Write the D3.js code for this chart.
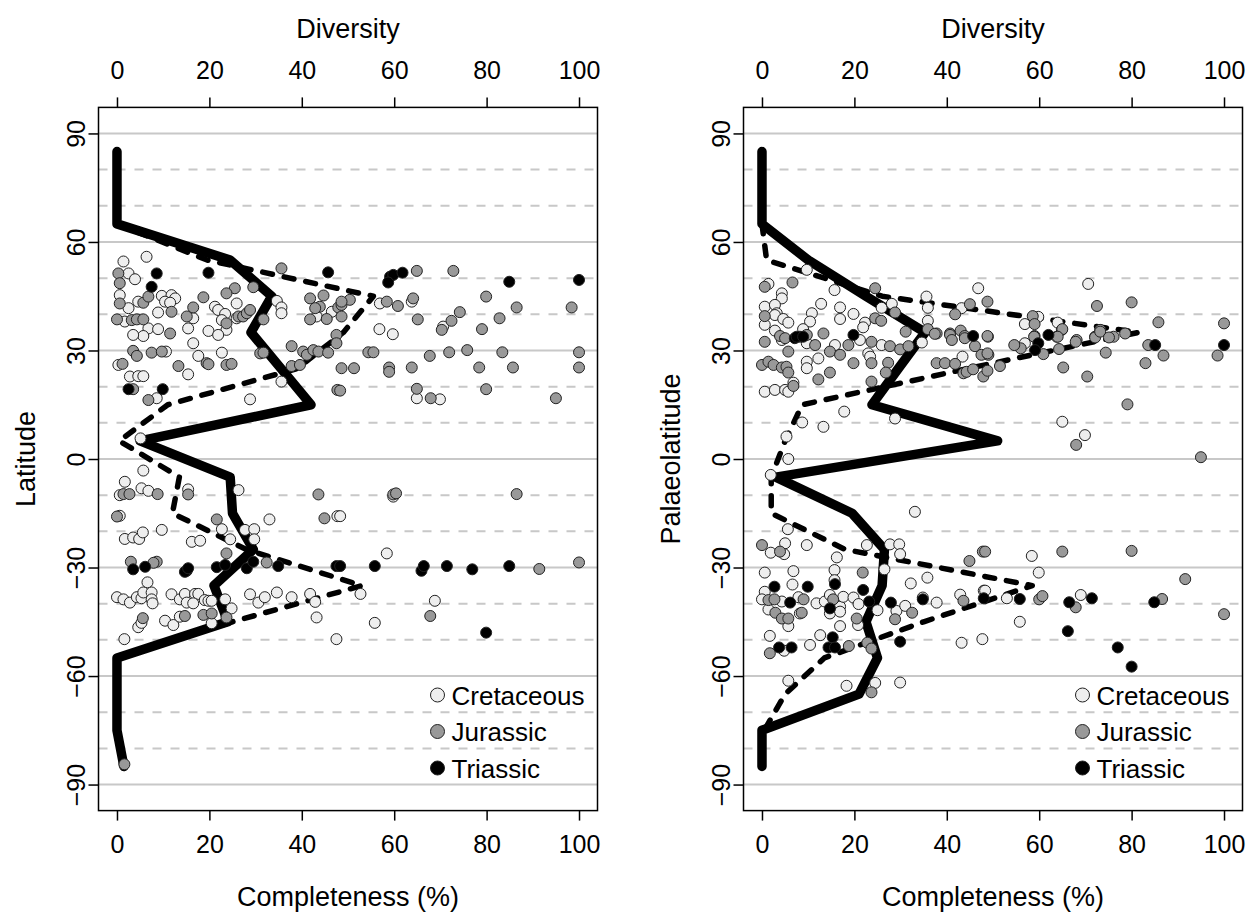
<!DOCTYPE html>
<html>
<head>
<meta charset="utf-8">
<script src="https://cdn.jsdelivr.net/npm/d3@7"></script>
<style>
  body { margin: 0; background: #fff; }
  text { font-family: "Liberation Sans", Arial, sans-serif; }
</style>
</head>
<body>
<div id="chart"></div>
<script>
// latitude bin midpoints used by both curves
var latBins = [85, 75, 65, 55, 45, 35, 25, 15, 5, -5, -15, -25, -35, -45, -55, -65, -75, -85];

// left panel (modern latitude)
var leftCompleteness = [0, 0, 0, 24.5, 33.5, 29, 35.5, 42, 5, 24.5, 25, 29.5, 21, 24, 0, 0, 0, 1.5];
var leftDiversity = [null, null, 0, 19.5, 55.5, 49, 39, 11, 0.5, 13.5, 12, 28, 53, 25, 0, null, null, null];

// right panel (palaeolatitude)
var rightCompleteness = [0, 0, 0, 10, 22.5, 35.3, 29.5, 23.8, 51, 3, 19.5, 26.5, 26, 22.5, 25, 21, 0, 0];
var rightDiversity = [null, null, 0, 1, 26, 81.5, 44.5, 8.7, 5, 2, 2, 18, 58.5, 35, 13.5, 5, 0.5, null];

var xTicks = [0, 20, 40, 60, 80, 100];
var latTicks = [-90, -60, -30, 0, 30, 60, 90];
var latMinor = [-80, -70, -50, -40, -20, -10, 10, 20, 40, 50, 70, 80];
var periods = ["Cretaceous", "Jurassic", "Triassic"];

// localities: [completeness, latitude]
var leftCretaceous = [[1.4,54.6],[6.4,55.9],[2.5,51.3],[3.9,49.7],[0.6,45.3],[2.5,41.7],[4.6,43.5],[9.7,45.1],[11.8,45.3],[12.6,44.4],[10.4,43.5],[11.5,43.2],[8.9,40.5],[16.5,38.9],[15.4,36.1],[21.2,42.1],[21.9,41.2],[23.4,40.1],[22.7,38.4],[23.7,35.7],[19.8,35.4],[25.9,43.0],[25.9,38.9],[34.6,43.7],[35.6,41.9],[35.6,40.3],[1.7,38.0],[6.8,36.1],[5.7,34.0],[8.9,35.9],[43.2,39.4],[46.5,40.7],
  [56.9,43.0],[63.8,43.5],[56.8,35.9],[59.7,34.5],[70.6,36.6],
  [10.6,29.7],[0.3,26.0],[2.8,22.8],[4.6,22.9],[5.7,22.9],[15.4,23.4],[17.6,28.5],[22.7,29.4],[8.6,16.8],[28.8,16.5],[35.6,21.4],[5.1,5.7],[5.7,-3.2],[1.7,-6.3],[5.3,-8.1],[6.8,-8.8],[0.6,-10.0],[15.4,-8.4],[26.3,-8.6],[0.6,-15.7],[1.7,-22.1],[3.5,-21.7],[4.8,-22.1],[5.6,-20.3],[9.7,-19.6],[16.2,-22.9],[18.0,-22.6],[22.7,-19.4],[24.5,-22.2],[27.7,-19.6],[29.7,-19.4],[29.7,-22.2],[33.0,-16.7],[47.7,-15.8],
  [16.5,32.0],[3.5,34.3],[21.9,34.3],
  [64.9,16.8],[69.9,16.5],[59.8,-10.4],[48.3,-15.8],
  [6.6,-34.1],[0,-38.2],[1.4,-38.8],[2.8,-39.7],[4.3,-38.2],[5.3,-38.5],[5.7,-36.9],[7.5,-36.9],[7.5,-38.8],[7.7,-39.9],[11.8,-37.4],[13.6,-38.8],[14.7,-37.3],[15.1,-39.7],[16.9,-37.3],[17.6,-37.3],[16.5,-39.9],[19.0,-39.0],[19.8,-39.2],[20.5,-39.2],[23.4,-38.8],[24.8,-41.3],[4.6,-46.5],[5.3,-45.3],[10.4,-44.7],[12.2,-45.9],[13.6,-43.6],[20.5,-45.4],[28.8,-37.4],[30.6,-39.7],[32.0,-38.2],[34.6,-36.9],[37.8,-38.2],[41.8,-37.3],[42.9,-39.5],[43.2,-43.8],[1.6,-49.8],[47.5,-49.8],
  [58.4,-26.1],[52.7,-37.3],[68.8,-39.2],[55.8,-45.3]];

var leftJurassic = [[0.3,51.3],[0.6,48.6],[35.6,52.7],[29.5,47.5],[25.5,47.2],[23.7,45.8],[0.6,43.0],[5.7,43.2],[6.8,44.9],[18.7,44.7],[11.8,40.7],[16.5,41.9],[15.1,39.4],[23.7,37.5],[26.3,39.4],[27.3,39.4],[28.1,40.3],[28.8,41.2],[31.7,38.6],[0,38.6],[3.2,38.4],[4.3,38.6],[5.7,38.6],[11.5,34.7],[41.8,44.4],[44.7,45.2],[43.9,42.1],[42.9,41.7],[41.8,38.6],[45.4,38.7],[47.9,41.9],[48.6,42.6],[50.4,44.0],[47.5,34.3],
  [64.9,52.0],[72.8,52.0],[48.6,43.5],[48.6,39.4],[58.4,43.5],[60.8,42.3],[64.1,44.4],[65.1,38.6],[79.9,44.9],[86.5,41.9],[98.4,41.9],[82.8,38.9],[74.2,40.6],[72.4,38.2],[70.3,35.7],[79.0,35.9],
  [3.5,29.9],[4.3,28.5],[7.5,29.4],[9.7,29.7],[1.2,26.3],[13.3,25.7],[19.4,26.5],[19.8,26.2],[23.7,26.0],[24.8,26.3],[3.5,19.3],[6.8,16.3],[31.0,29.2],[31.7,29.4],[37.8,31.2],[37.8,25.7],[39.6,26.0],[40.3,29.7],[41.1,28.8],[42.5,30.1],[43.6,29.7],[45.7,29.4],[47.5,32.0],[48.6,25.1],[47.7,19.1],[1.4,-9.7],[2.7,-9.7],[8.8,-9.7],[15.4,-9.8],[43.6,-9.8],[0,-15.9],[21.6,-16.7],[44.9,-16.4],
  [54.4,29.5],[55.5,29.5],[51.3,25.1],[58.9,25.3],[58.9,24.1],[63.8,25.3],[67.7,28.5],[71.9,29.5],[75.8,30.1],[83.4,29.5],[100,29.5],[78.4,25.3],[85.7,25.3],[100,25.3],[48.3,18.9],[64.9,19.4],[67.9,16.8],[79.9,19.3],[95.0,16.8],[59.8,-9.8],[60.4,-9.5],[86.5,-9.7],
  [23.7,-26.1],[3.0,-28.4],[8.6,-28.4],[7.9,-28.7],[32.4,-28.6],[5.6,-44.0],[14.7,-43.4],[18.7,-43.1],[20.5,-42.7],[23.7,-43.8],[1.6,-84.4],
  [91.4,-30.4],[100,-28.6],[67.8,-43.4]];

var leftTriassic = [[8.6,51.3],[7.5,47.6],[19.8,51.5],[45.7,51.6],[59.1,50.4],[59.8,50.9],[58.7,48.8],[61.8,51.5],[84.9,49.0],[100,49.5],[2.5,19.3],[9.9,19.3],[3.5,-30.5],[6.1,-29.8],[15.1,-30.9],[14.7,-31.2],[15.4,-30.2],[21.6,-29.9],[23.4,-29.3],[28.1,-30.2],[29.5,-28.4],[34.9,-29.6],[47.5,-29.6],[48.3,-29.6],[55.8,-29.6],[65.9,-30.9],[66.4,-29.6],[71.4,-29.6],[76.9,-30.5],[84.9,-29.6],[79.9,-48.0]];

var rightCretaceous = [[1.4,48.4],[4.3,45.8],[4.3,44.4],[0.6,42.1],[2.8,42.6],[3.2,40.3],[2.8,39.8],[4.6,38.7],[5.7,37.7],[0.6,37.1],[2.8,35.5],[9.7,52.3],[12.8,42.9],[15.7,46.7],[16.9,41.9],[16.9,38.7],[10.8,40.3],[10.4,38.0],[8.9,35.9],[19.8,40.1],[22.3,37.7],[21.9,36.4],[25.9,41.8],[28.1,42.9],[35.6,44.9],[35.9,41.8],[35.9,38.2],[43.2,41.7],[46.8,47.2],
  [70.6,48.4],[59.8,39.3],[56.9,37.3],[64.0,37.7],
  [4.3,32.9],[9.7,32.0],[15.8,31.5],[21.2,32.9],[25.9,31.5],[23.0,29.2],[23.4,28.3],[9.7,26.9],[9.7,25.1],[12.2,27.8],[0.6,18.6],[2.8,19.1],[5.0,19.1],[5.7,18.6],[6.8,21.1],[43.4,28.3],[34.6,32.2],[17.8,13.1],[8.7,10.1],[13.3,8.9],[5.3,6.2],[28.8,11.2],[5.7,0],[1.9,-4.4],[33.1,-14.6],[5.6,-19.4],[5.0,-23.3],[9.7,-23.8],[22.7,-23.8],[27.7,-23.6],[29.7,-23.6],
  [64.9,35.7],[56.9,32.0],[65.0,10.3],[69.9,6.6],
  [1.9,-25.9],[4.8,-26.3],[16.2,-27.2],[29.9,-26.3],[0.6,-31.4],[6.8,-31.0],[6.6,-34.7],[15.7,-30.7],[15.7,-33.5],[26.5,-30.5],[0.6,-36.7],[0,-38.8],[4.3,-39.4],[7.9,-38.2],[1.4,-41.6],[5.7,-46.2],[8.2,-42.7],[11.8,-39.9],[13.6,-39.4],[14.7,-37.6],[14.7,-42.7],[16.9,-40.8],[16.9,-42.2],[17.6,-38.1],[19.8,-38.3],[20.9,-40.1],[20.8,-45.9],[16.9,-46.2],[25.0,-41.8],[29.1,-42.0],[31.0,-40.6],[32.2,-34.4],[35.8,-32.8],[34.8,-38.3],[37.8,-39.7],[42.9,-37.5],[48.0,-36.4],[1.7,-48.9],[12.6,-48.7],[10.4,-51.4],[4.8,-53.0],[43.2,-50.8],[47.7,-49.8],[5.7,-61.3],[18.3,-62.7],[24.5,-61.9],[29.9,-61.8],
  [58.4,-26.8],[59.9,-31.4],[48.3,-36.4],[53.0,-38.5],[55.8,-45.0],[69.0,-37.6]];

var rightJurassic = [[0.6,47.6],[6.6,48.8],[0.6,39.5],[3.9,34.0],[5.0,33.4],[9.7,34.3],[13.3,34.7],[24.5,47.2],[24.5,38.9],[25.8,38.2],[28.8,40.5],[31.1,35.2],[35.9,35.9],[37.8,34.7],[40.7,34.7],[43.0,35.5],[43.9,34.0],[41.8,40.0],[45.0,42.8],[48.8,43.5],
  [72.5,42.3],[80.0,43.3],[85.8,37.8],[100,37.5],[58.6,39.5],[59.0,37.3],[65.0,35.9],[59.0,34.0],[63.8,33.8],[68.1,32.9],[73.2,35.7],[72.1,33.8],[76.1,33.8],[78.6,34.7],[48.9,33.8],
  [0.6,32.4],[5.7,29.7],[11.5,31.5],[18.7,31.5],[23.7,32.4],[27.7,31.2],[29.9,30.3],[31.7,31.2],[14.7,29.7],[16.9,28.8],[0,26.0],[1.4,26.9],[2.5,26.0],[4.3,25.3],[5.3,25.5],[5.7,23.9],[12.2,22.0],[14.7,23.9],[19.8,26.5],[23.7,26.5],[27.3,26.6],[26.8,23.9],[23.7,21.4],[6.8,20.2],[37.8,26.5],[39.6,26.5],[41.8,26.3],[43.6,23.7],[44.3,24.1],[45.7,24.8],[47.5,28.8],[47.9,22.8],[49.0,28.8],[40.7,34.3],[41.1,32.9],[43.9,33.4],[46.1,31.2],[48.8,34.0],[37.4,34.6],[0,-23.8],
  [58.9,33.8],[64.0,33.8],[56.0,30.6],[54.6,31.5],[60.9,29.0],[64.3,30.4],[67.9,32.4],[72.1,33.6],[73.2,35.2],[75.1,33.6],[74.4,29.4],[83.6,31.5],[86.9,28.6],[83.0,26.5],[98.6,28.6],[48.8,29.2],[48.8,24.4],[51.5,25.7],[65.2,25.3],[70.4,22.8],[79.1,15.1],[68.0,3.9],[95.0,0.5],
  [3.9,-25.6],[21.8,-31.4],[1.4,-39.0],[2.7,-38.8],[9.0,-38.8],[2.9,-42.5],[4.3,-44.1],[5.7,-44.1],[8.6,-42.5],[15.4,-38.8],[20.5,-44.1],[28.8,-44.3],[32.5,-42.5],[43.6,-39.2],[47.8,-25.6],[44.9,-28.2],[1.7,-53.7],[18.8,-51.7],[22.8,-50.8],[23.7,-52.4],[23.7,-64.5],
  [48.3,-25.6],[65.0,-25.6],[80.0,-25.4],[91.6,-33.2],[60.0,-38.8],[60.7,-37.9],[67.9,-41.0],[86.6,-38.7],[100,-42.9]];

var rightTriassic = [[8.2,33.8],[7.1,33.4],[19.8,34.3],[45.7,34.0],[62.0,34.3],[7.5,33.8],[8.9,33.8],[59.8,32.0],[59.1,30.1],[85.1,31.5],[100,31.5],[21.9,-36.2],[2.7,-35.3],[9.9,-35.3],[15.8,-34.6],[6.1,-39.7],[14.7,-41.3],[23.2,-39.4],[27.9,-39.7],[34.8,-38.8],[48.0,-38.5],[3.7,-52.1],[6.4,-52.1],[14.4,-52.1],[15.3,-49.3],[15.8,-52.1],[29.9,-50.5],[55.8,-38.7],[66.5,-39.6],[71.4,-38.5],[84.9,-39.6],[66.2,-47.6],[77.0,-52.1],[80.0,-57.4]];

var w = 1252, h = 915;
var fills = {Cretaceous: "#eeeeee", Jurassic: "#999999", Triassic: "#000000"};

var svg = d3.select("#chart").append("svg")
    .attr("width", w)
    .attr("height", h);

var yScale = d3.scaleLinear().domain([-97.2, 97.2]).range([810.6, 107.4]);

function drawPanel(x0, yTitle, completeness, diversity, pts) {
    var xScale = d3.scaleLinear().domain([-4, 104]).range([x0, x0 + 499]);
    var g = svg.append("g");

    // grid lines
    g.selectAll(".major").data(latTicks).enter().append("line")
        .attr("x1", x0).attr("x2", x0 + 499)
        .attr("y1", function (d) { return yScale(d); })
        .attr("y2", function (d) { return yScale(d); })
        .attr("stroke", "#c8c8c8").attr("stroke-width", 2);
    g.selectAll(".minor").data(latMinor).enter().append("line")
        .attr("x1", x0).attr("x2", x0 + 499)
        .attr("y1", function (d) { return yScale(d); })
        .attr("y2", function (d) { return yScale(d); })
        .attr("stroke", "#c8c8c8").attr("stroke-width", 2)
        .attr("stroke-dasharray", "9,9");

    // curves
    var line = d3.line()
        .defined(function (d) { return d[0] != null; })
        .x(function (d) { return xScale(d[0]); })
        .y(function (d) { return yScale(d[1]); });

    g.append("path")
        .datum(diversity.map(function (v, i) { return [v, latBins[i]]; }))
        .attr("d", line)
        .attr("fill", "none").attr("stroke", "#000")
        .attr("stroke-width", 5.5)
        .attr("stroke-dasharray", "10,12")
        .attr("stroke-linecap", "round")
        .attr("stroke-linejoin", "round");

    g.append("path")
        .datum(completeness.map(function (v, i) { return [v, latBins[i]]; }))
        .attr("d", line)
        .attr("fill", "none").attr("stroke", "#000")
        .attr("stroke-width", 9.5)
        .attr("stroke-linecap", "round")
        .attr("stroke-linejoin", "round");

    // localities
    periods.forEach(function (p) {
        g.selectAll(".pt-" + p).data(pts[p]).enter().append("circle")
            .attr("cx", function (d) { return xScale(d[0]); })
            .attr("cy", function (d) { return yScale(d[1]); })
            .attr("r", 5.5)
            .attr("fill", fills[p])
            .attr("stroke", "#222").attr("stroke-width", 1);
    });

    // box
    g.append("rect")
        .attr("x", x0).attr("y", yScale(97.2))
        .attr("width", 499).attr("height", yScale(-97.2) - yScale(97.2))
        .attr("fill", "none").attr("stroke", "#000").attr("stroke-width", 1.5);

    // axes
    var bottom = g.append("g")
        .attr("transform", "translate(0," + yScale(-97.2) + ")")
        .call(d3.axisBottom(xScale).tickValues(xTicks).tickSize(10).tickPadding(15).tickFormat(d3.format("d")));
    var top = g.append("g")
        .attr("transform", "translate(0," + yScale(97.2) + ")")
        .call(d3.axisTop(xScale).tickValues(xTicks).tickSize(10).tickPadding(18).tickFormat(d3.format("d")));
    var left = g.append("g")
        .attr("transform", "translate(" + x0 + ",0)")
        .call(d3.axisLeft(yScale).tickValues(latTicks).tickSize(10));
    left.selectAll(".tick text")
        .attr("transform", "rotate(-90)")
        .attr("x", 0).attr("y", -14).attr("dy", 0)
        .attr("text-anchor", "middle");

    [bottom, top, left].forEach(function (a) {
        a.select(".domain").remove();
        a.selectAll(".tick line").attr("stroke", "#000").attr("stroke-width", 1.5);
        a.selectAll(".tick text")
            .attr("font-family", "Liberation Sans, Arial, sans-serif")
            .attr("font-size", "25px").attr("fill", "#000");
    });

    // titles
    var cx = x0 + 249.5;
    g.append("text").attr("x", cx).attr("y", 38)
        .attr("text-anchor", "middle").attr("font-size", "27px").text("Diversity");
    g.append("text").attr("x", cx).attr("y", 906)
        .attr("text-anchor", "middle").attr("font-size", "27px").text("Completeness (%)");
    g.append("text")
        .attr("transform", "translate(" + (x0 - 64) + ",459) rotate(-90)")
        .attr("text-anchor", "middle").attr("font-size", "27px").text(yTitle);

    // legend
    var leg = g.append("g").attr("transform", "translate(" + (x0 + 339) + ",0)");
    periods.forEach(function (p, i) {
        var yy = 695 + i * 36.5;
        leg.append("circle").attr("cx", 0).attr("cy", yy).attr("r", 7)
            .attr("fill", fills[p]).attr("stroke", "#222").attr("stroke-width", 1);
        leg.append("text").attr("x", 14).attr("y", yy + 9.5)
            .attr("font-size", "26px").text(p);
    });
}

drawPanel(98.5, "Latitude", leftCompleteness, leftDiversity,
    {Cretaceous: leftCretaceous, Jurassic: leftJurassic, Triassic: leftTriassic});
drawPanel(743.5, "Palaeolatitude", rightCompleteness, rightDiversity,
    {Cretaceous: rightCretaceous, Jurassic: rightJurassic, Triassic: rightTriassic});
</script>
</body>
</html>
